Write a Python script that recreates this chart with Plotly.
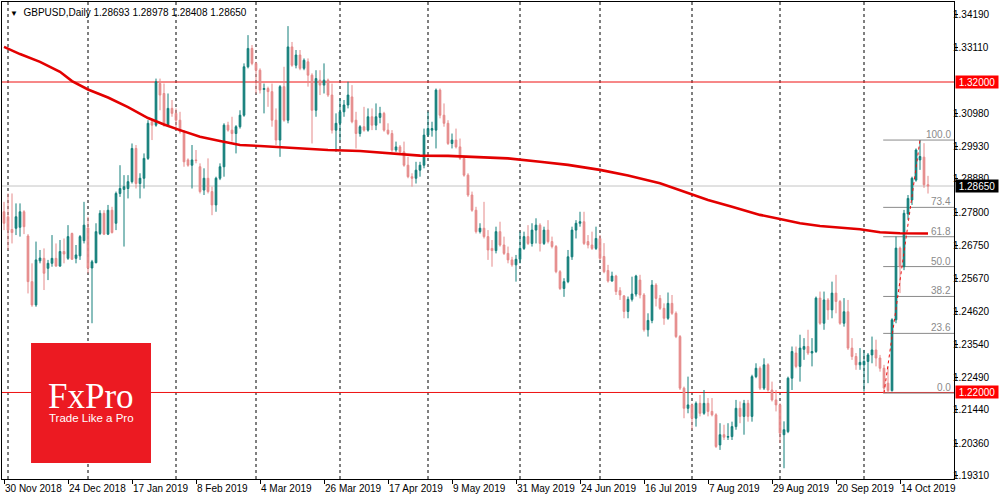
import pandas as pd
import plotly.graph_objects as go

# ---------------- data ----------------
holidays = ["2018-12-25", "2019-01-01"]
dates = [d for d in pd.bdate_range("2018-11-30", "2019-10-23") if d.strftime("%Y-%m-%d") not in holidays]
date_str = [d.strftime("%Y-%m-%d") for d in dates]

opens = [1.2782, 1.2766, 1.2725, 1.2729, 1.2732, 1.2782, 1.2704, 1.2557, 1.2482, 1.2624,
         1.2632, 1.2600, 1.2616, 1.2632, 1.2607, 1.2654, 1.2632, 1.2712, 1.2632, 1.2640,
         1.2689, 1.2730, 1.2601, 1.2618, 1.2712, 1.2777, 1.2710, 1.2787, 1.2745, 1.2841,
         1.2854, 1.2857, 1.2879, 1.2986, 1.2873, 1.2890, 1.2954, 1.3072, 1.3061, 1.3195,
         1.3163, 1.3061, 1.3115, 1.3099, 1.3077, 1.3040, 1.2949, 1.2932, 1.2949, 1.2927,
         1.2852, 1.2890, 1.2847, 1.2804, 1.2890, 1.2927, 1.3061, 1.3045, 1.3034, 1.3056,
         1.3093, 1.3249, 1.3308, 1.3260, 1.3238, 1.3176, 1.3179, 1.3169, 1.3077, 1.3013,
         1.3185, 1.3077, 1.3313, 1.3254, 1.3287, 1.3244, 1.3265, 1.3222, 1.3109, 1.3206,
         1.3190, 1.3206, 1.3158, 1.3045, 1.3067, 1.3104, 1.3126, 1.3152, 1.3077, 1.3034,
         1.3056, 1.3045, 1.3088, 1.3061, 1.3086, 1.3099, 1.3045, 1.3034, 1.2981, 1.2991,
         1.2975, 1.2932, 1.2895, 1.2890, 1.2916, 1.2932, 1.3029, 1.3045, 1.3045, 1.3174,
         1.3093, 1.3067, 1.3002, 1.3013, 1.2991, 1.2954, 1.2900, 1.2836, 1.2787, 1.2718,
         1.2729, 1.2702, 1.2664, 1.2657, 1.2718, 1.2675, 1.2648, 1.2627, 1.2611, 1.2629,
         1.2664, 1.2702, 1.2680, 1.2723, 1.2739, 1.2680, 1.2723, 1.2686, 1.2670, 1.2589,
         1.2535, 1.2557, 1.2637, 1.2723, 1.2745, 1.2750, 1.2686, 1.2675, 1.2664, 1.2696,
         1.2638, 1.2593, 1.2559, 1.2575, 1.2528, 1.2511, 1.2461, 1.2500, 1.2517, 1.2562,
         1.2514, 1.2402, 1.2432, 1.2546, 1.2503, 1.2471, 1.2439, 1.2487, 1.2455, 1.2380,
         1.2214, 1.2149, 1.2160, 1.2117, 1.2165, 1.2133, 1.2165, 1.2139, 1.2128, 1.2031,
         1.2064, 1.2056, 1.2058, 1.2090, 1.2149, 1.2123, 1.2165, 1.2123, 1.2251, 1.2278,
         1.2214, 1.2289, 1.2208, 1.2176, 1.2160, 1.2064, 1.2074, 1.2246, 1.2327, 1.2284,
         1.2339, 1.2348, 1.2327, 1.2332, 1.2504, 1.2423, 1.2498, 1.2466, 1.2520, 1.2493,
         1.2423, 1.2460, 1.2343, 1.2316, 1.2289, 1.2289, 1.2300, 1.2321, 1.2337, 1.2311,
         1.2278, 1.2230, 1.2206, 1.2434, 1.2665, 1.2605, 1.2775, 1.2820, 1.2884, 1.2949,
         1.2958, 1.28693]
highs = [1.2814, 1.2841, 1.2841, 1.2809, 1.2809, 1.2787, 1.2710, 1.2616, 1.2686, 1.2659,
         1.2664, 1.2627, 1.2707, 1.2680, 1.2691, 1.2696, 1.2739, 1.2715, 1.2675, 1.2707,
         1.2814, 1.2766, 1.2627, 1.2745, 1.2787, 1.2787, 1.2804, 1.2798, 1.2847, 1.2932,
         1.2900, 1.2900, 1.3002, 1.2997, 1.2906, 1.2970, 1.3077, 1.3077, 1.3211, 1.3211,
         1.3195, 1.3163, 1.3142, 1.3115, 1.3104, 1.3045, 1.2954, 1.2997, 1.2981, 1.2938,
         1.2922, 1.2954, 1.2863, 1.2895, 1.2938, 1.3067, 1.3072, 1.3088, 1.3061, 1.3109,
         1.3260, 1.3351, 1.3319, 1.3265, 1.3244, 1.3195, 1.3185, 1.3195, 1.3115, 1.3190,
         1.3249, 1.3380, 1.3329, 1.3303, 1.3303, 1.3276, 1.3276, 1.3228, 1.3238, 1.3238,
         1.3260, 1.3211, 1.3195, 1.3099, 1.3147, 1.3142, 1.3201, 1.3190, 1.3104, 1.3061,
         1.3120, 1.3115, 1.3115, 1.3131, 1.3120, 1.3104, 1.3067, 1.3045, 1.3008, 1.2997,
         1.3008, 1.2959, 1.2906, 1.2943, 1.2943, 1.3050, 1.3104, 1.3072, 1.3179, 1.3179,
         1.3131, 1.3077, 1.3034, 1.3050, 1.3018, 1.2959, 1.2906, 1.2847, 1.2798, 1.2745,
         1.2814, 1.2723, 1.2691, 1.2734, 1.2750, 1.2702, 1.2670, 1.2637, 1.2643, 1.2718,
         1.2718, 1.2739, 1.2745, 1.2761, 1.2745, 1.2734, 1.2755, 1.2702, 1.2675, 1.2594,
         1.2568, 1.2659, 1.2734, 1.2755, 1.2782, 1.2782, 1.2707, 1.2718, 1.2734, 1.2707,
         1.2681, 1.2611, 1.2589, 1.2579, 1.2539, 1.2514, 1.2509, 1.2573, 1.2579, 1.2579,
         1.2520, 1.2455, 1.2562, 1.2552, 1.2514, 1.2487, 1.2522, 1.2514, 1.2461, 1.2385,
         1.2219, 1.2251, 1.2165, 1.2171, 1.2192, 1.2208, 1.2182, 1.2182, 1.2133, 1.2101,
         1.2096, 1.2101, 1.2106, 1.2176, 1.2171, 1.2176, 1.2176, 1.2257, 1.2294, 1.2284,
         1.2310, 1.2294, 1.2235, 1.2208, 1.2165, 1.2107, 1.2251, 1.2348, 1.2348, 1.2386,
         1.2375, 1.2402, 1.2375, 1.2509, 1.2525, 1.2525, 1.2504, 1.2557, 1.2579, 1.2498,
         1.2504, 1.2498, 1.2375, 1.2327, 1.2343, 1.2337, 1.2327, 1.2380, 1.2370, 1.2321,
         1.2289, 1.2284, 1.2439, 1.2702, 1.2670, 1.2788, 1.2836, 1.2895, 1.2986, 1.3013,
         1.3003, 1.28978]
lows = [1.2723, 1.2659, 1.2680, 1.2707, 1.2702, 1.2710, 1.2519, 1.2476, 1.2476, 1.2616,
        1.2530, 1.2562, 1.2605, 1.2605, 1.2605, 1.2616, 1.2627, 1.2627, 1.2616, 1.2627,
        1.2680, 1.2584, 1.2423, 1.2616, 1.2707, 1.2707, 1.2707, 1.2712, 1.2723, 1.2830,
        1.2670, 1.2825, 1.2873, 1.2857, 1.2825, 1.2857, 1.2949, 1.3013, 1.3056, 1.3109,
        1.3056, 1.3056, 1.3088, 1.3045, 1.3034, 1.2927, 1.2927, 1.2857, 1.2938, 1.2841,
        1.2836, 1.2841, 1.2771, 1.2782, 1.2884, 1.2895, 1.3040, 1.3008, 1.2970, 1.3050,
        1.3088, 1.3244, 1.3254, 1.3163, 1.3163, 1.3099, 1.3120, 1.3056, 1.2997, 1.2959,
        1.3072, 1.3067, 1.3249, 1.3244, 1.3238, 1.3238, 1.3185, 1.3002, 1.3088, 1.3158,
        1.3163, 1.3152, 1.3034, 1.2975, 1.3013, 1.3088, 1.3115, 1.3067, 1.2986, 1.3024,
        1.3040, 1.3040, 1.3045, 1.3045, 1.3067, 1.3040, 1.3029, 1.2975, 1.2975, 1.2970,
        1.2927, 1.2890, 1.2863, 1.2873, 1.2895, 1.2922, 1.3024, 1.3024, 1.2986, 1.3083,
        1.3056, 1.2997, 1.2986, 1.2986, 1.2949, 1.2895, 1.2830, 1.2782, 1.2712, 1.2712,
        1.2696, 1.2627, 1.2605, 1.2648, 1.2670, 1.2643, 1.2616, 1.2605, 1.2557, 1.2616,
        1.2659, 1.2675, 1.2670, 1.2680, 1.2654, 1.2675, 1.2680, 1.2664, 1.2584, 1.2530,
        1.2508, 1.2552, 1.2627, 1.2696, 1.2734, 1.2675, 1.2664, 1.2659, 1.2659, 1.2627,
        1.2584, 1.2554, 1.2557, 1.2514, 1.2498, 1.2439, 1.2439, 1.2493, 1.2509, 1.2503,
        1.2396, 1.2380, 1.2423, 1.2477, 1.2466, 1.2418, 1.2434, 1.2450, 1.2375, 1.2208,
        1.2117, 1.2133, 1.2080, 1.2090, 1.2123, 1.2128, 1.2123, 1.2123, 1.2021, 1.2015,
        1.2047, 1.2047, 1.2047, 1.2080, 1.2101, 1.2064, 1.2106, 1.2106, 1.2246, 1.2208,
        1.2208, 1.2203, 1.2171, 1.2139, 1.2037, 1.1956, 1.2069, 1.2208, 1.2278, 1.2235,
        1.2305, 1.2321, 1.2284, 1.2327, 1.2418, 1.2402, 1.2434, 1.2439, 1.2455, 1.2418,
        1.2412, 1.2337, 1.2305, 1.2273, 1.2273, 1.2203, 1.2230, 1.2294, 1.2284, 1.2267,
        1.2198, 1.2200, 1.2203, 1.2423, 1.2520, 1.2594, 1.2756, 1.2804, 1.2879, 1.2917,
        1.2859, 1.28408]
closes = [1.2745, 1.2723, 1.2715, 1.2766, 1.2782, 1.2734, 1.2557, 1.2482, 1.2627, 1.2633,
          1.2584, 1.2616, 1.2632, 1.2607, 1.2654, 1.2646, 1.2702, 1.2629, 1.2643, 1.2702,
          1.2739, 1.2601, 1.2621, 1.2718, 1.2777, 1.2710, 1.2787, 1.2715, 1.2841, 1.2857,
          1.2863, 1.2879, 1.2986, 1.2873, 1.2890, 1.2954, 1.3067, 1.3061, 1.3201, 1.3158,
          1.3061, 1.3115, 1.3099, 1.3077, 1.3040, 1.2943, 1.2932, 1.2949, 1.2947, 1.2847,
          1.2890, 1.2847, 1.2804, 1.2890, 1.2927, 1.3061, 1.3045, 1.3034, 1.3056, 1.3093,
          1.3249, 1.3308, 1.3260, 1.3238, 1.3174, 1.3179, 1.3169, 1.3077, 1.3013, 1.3185,
          1.3077, 1.3313, 1.3254, 1.3287, 1.3244, 1.3270, 1.3222, 1.3109, 1.3211, 1.3190,
          1.3206, 1.3158, 1.3045, 1.3067, 1.3104, 1.3126, 1.3158, 1.3072, 1.3034, 1.3056,
          1.3045, 1.3088, 1.3061, 1.3088, 1.3099, 1.3045, 1.3034, 1.2981, 1.2991, 1.2975,
          1.2932, 1.2895, 1.2890, 1.2916, 1.2932, 1.3029, 1.3050, 1.3050, 1.3174, 1.3093,
          1.3067, 1.3002, 1.3013, 1.2991, 1.2954, 1.2900, 1.2836, 1.2787, 1.2718, 1.2729,
          1.2702, 1.2659, 1.2657, 1.2718, 1.2675, 1.2648, 1.2627, 1.2611, 1.2629, 1.2664,
          1.2702, 1.2680, 1.2723, 1.2739, 1.2680, 1.2723, 1.2686, 1.2670, 1.2589, 1.2535,
          1.2557, 1.2637, 1.2723, 1.2745, 1.2750, 1.2680, 1.2675, 1.2664, 1.2696, 1.2632,
          1.2589, 1.2559, 1.2575, 1.2525, 1.2514, 1.2461, 1.2500, 1.2517, 1.2575, 1.2514,
          1.2402, 1.2432, 1.2546, 1.2503, 1.2471, 1.2439, 1.2487, 1.2455, 1.2380, 1.2214,
          1.2149, 1.2160, 1.2117, 1.2165, 1.2133, 1.2165, 1.2139, 1.2128, 1.2026, 1.2064,
          1.2056, 1.2058, 1.2090, 1.2149, 1.2123, 1.2165, 1.2123, 1.2251, 1.2278, 1.2214,
          1.2289, 1.2208, 1.2176, 1.2160, 1.2069, 1.2080, 1.2246, 1.2332, 1.2284, 1.2343,
          1.2348, 1.2327, 1.2332, 1.2504, 1.2423, 1.2498, 1.2466, 1.2520, 1.2493, 1.2423,
          1.2460, 1.2343, 1.2316, 1.2289, 1.2297, 1.2300, 1.2321, 1.2337, 1.2311, 1.2278,
          1.2214, 1.2206, 1.2434, 1.2665, 1.2605, 1.2777, 1.2825, 1.2890, 1.2981, 1.2960,
          1.2869, 1.28650]

# 200-day moving average, read at selected bars
ma_index = [0, 4, 9, 14, 17, 21, 26, 31, 36, 40, 44, 49, 54, 59, 64, 69, 74, 81, 89, 96,
            104, 111, 119, 126, 134, 141, 149, 156, 164, 176, 182, 189, 194, 199, 204, 209,
            214, 219, 224, 231]
ma_values = [1.3313, 1.3290, 1.3265, 1.3233, 1.3203, 1.3176, 1.3150, 1.3119, 1.3084, 1.3063,
             1.3045, 1.3024, 1.3010, 1.2997, 1.2994, 1.2990, 1.2987, 1.2981, 1.2978, 1.2970,
             1.2963, 1.2962, 1.2957, 1.2954, 1.2943, 1.2933, 1.2917, 1.2899, 1.2874, 1.2820,
             1.2798, 1.2772, 1.2759, 1.2745, 1.2736, 1.2732, 1.2726, 1.2716, 1.2713, 1.2712]

price_ticks = [1.34190, 1.33110, 1.30980, 1.29930, 1.28880, 1.27800, 1.26750,
               1.25670, 1.24620, 1.23540, 1.22490, 1.21440, 1.20360, 1.19310]

level_red = [1.32000, 1.22000]
current_price = 1.28650

fib_start_idx, fib_end_idx = 220, 229
fib_low, fib_high = 1.2198, 1.3013
fib_levels = [0.0, 23.6, 38.2, 50.0, 61.8, 73.4, 100.0]

header = "GBPUSD,Daily 1.28693 1.28978 1.28408 1.28650"

# ---------------- styling ----------------
TEAL = "#127e7a"
PINK = "#e58a8a"
RED = "#ee1111"
FONT = "Liberation Sans"
n = len(date_str)
x_max = 237.5

tick_idx = list(range(0, n, 16))
tick_vals = [date_str[i] for i in tick_idx]
tick_text = [f"{dates[i].day} {dates[i].strftime('%b %Y')}" for i in tick_idx]
month_starts = [i for i in range(1, n) if dates[i].month != dates[i - 1].month]

fig = go.Figure()
fig.add_trace(go.Candlestick(
    x=date_str, open=opens, high=highs, low=lows, close=closes,
    increasing=dict(line=dict(color=TEAL, width=1), fillcolor=TEAL),
    decreasing=dict(line=dict(color=PINK, width=1), fillcolor=PINK),
    whiskerwidth=0, hoverinfo="skip",
))
fig.add_trace(go.Scatter(
    x=[date_str[i] for i in ma_index], y=ma_values, mode="lines",
    line=dict(color="#e30000", width=2.6), hoverinfo="skip",
))

shapes = []
for i in month_starts:
    shapes.append(dict(type="line", xref="x", yref="paper", x0=i, x1=i, y0=0, y1=1,
                       line=dict(color="black", width=1, dash="3px,3px"), layer="below"))
shapes.append(dict(type="line", xref="paper", yref="y", x0=0, x1=1, y0=current_price, y1=current_price,
                   line=dict(color="#c4c4c4", width=1), layer="below"))
for lv in level_red:
    shapes.append(dict(type="line", xref="paper", yref="y", x0=0, x1=1, y0=lv, y1=lv,
                       line=dict(color=RED, width=1), layer="below"))
fib_prices = [fib_low + f / 100.0 * (fib_high - fib_low) for f in fib_levels]
for f, p in zip(fib_levels, fib_prices):
    shapes.append(dict(type="line", xref="x", yref="y", x0=fib_start_idx - 0.2, x1=x_max, y0=p, y1=p,
                       line=dict(color="#8a8a8a", width=1), layer="below"))
shapes.append(dict(type="line", xref="x", yref="y", x0=fib_start_idx, x1=fib_end_idx,
                   y0=fib_low, y1=fib_high, line=dict(color=RED, width=1, dash="dot")))
# FxPro logo box
shapes.append(dict(type="rect", xref="paper", yref="paper", x0=0.0305, x1=0.1565, y0=0.0335, y1=0.2851,
                   fillcolor="#ec1a22", line=dict(width=0), layer="above"))

annotations = []
for f, p in zip(fib_levels, fib_prices):
    annotations.append(dict(xref="paper", yref="y", x=1, y=p, xanchor="right", yanchor="bottom",
                            xshift=-1, yshift=-2, text=f"{f:.1f}", showarrow=False,
                            font=dict(family=FONT, size=10, color="#8a8a8a")))
for lv in level_red:
    annotations.append(dict(xref="paper", yref="y", x=1, y=lv, xanchor="left", yanchor="middle",
                            xshift=1, text=f"{lv:.5f}", showarrow=False, bgcolor="#ff0000",
                            width=40, height=10, borderpad=1,
                            font=dict(family=FONT, size=10, color="white")))
annotations.append(dict(xref="paper", yref="y", x=1, y=current_price, xanchor="left", yanchor="middle",
                        xshift=1, text=f"{current_price:.5f}", showarrow=False, bgcolor="black",
                        width=40, height=10, borderpad=1,
                        font=dict(family=FONT, size=10, color="white")))
annotations.append(dict(xref="paper", yref="paper", x=0, y=1, xanchor="left", yanchor="top",
                        xshift=6, yshift=-3, showarrow=False,
                        text="<span style='font-size:8px'>▼</span>  " + header,
                        font=dict(family=FONT, size=10, color="black")))
annotations.append(dict(xref="paper", yref="paper", x=0.0935, y=0.172, xanchor="center", yanchor="middle",
                        showarrow=False, text="FxPro",
                        font=dict(family="Liberation Serif", size=35, color="white")))
annotations.append(dict(xref="paper", yref="paper", x=0.0935, y=0.128, xanchor="center", yanchor="middle",
                        showarrow=False, text="Trade Like a Pro",
                        font=dict(family=FONT, size=11.5, color="white")))

fig.update_layout(
    width=1000, height=500,
    margin=dict(l=2, r=46, t=2, b=21, autoexpand=False),
    paper_bgcolor="white", plot_bgcolor="white",
    showlegend=False, boxgap=0.4,
    shapes=shapes, annotations=annotations,
    xaxis=dict(type="category", range=[-0.5, x_max], tickmode="array", tickvals=tick_vals,
               ticktext=tick_text, ticks="outside", ticklen=4, tickcolor="black",
               ticklabelposition="outside right", tickangle=0, automargin=False,
               showline=True, mirror=True, linecolor="black", linewidth=1,
               showgrid=False, zeroline=False, rangeslider=dict(visible=False),
               tickfont=dict(family=FONT, size=10, color="black")),
    yaxis=dict(side="right", range=[1.19213, 1.34577], tickmode="array", tickvals=price_ticks,
               ticktext=[f"{v:.5f}" for v in price_ticks], ticks="outside", ticklen=3,
               ticklabelstandoff=-7,
               tickcolor="black", showline=True, mirror=True, linecolor="black", linewidth=1,
               showgrid=False, zeroline=False, automargin=False,
               tickfont=dict(family=FONT, size=10, color="black")),
)

fig.write_html("out.html", config={"displayModeBar": False, "staticPlot": True},
               post_script="document.body.style.margin='0';document.body.style.overflow='hidden';")
